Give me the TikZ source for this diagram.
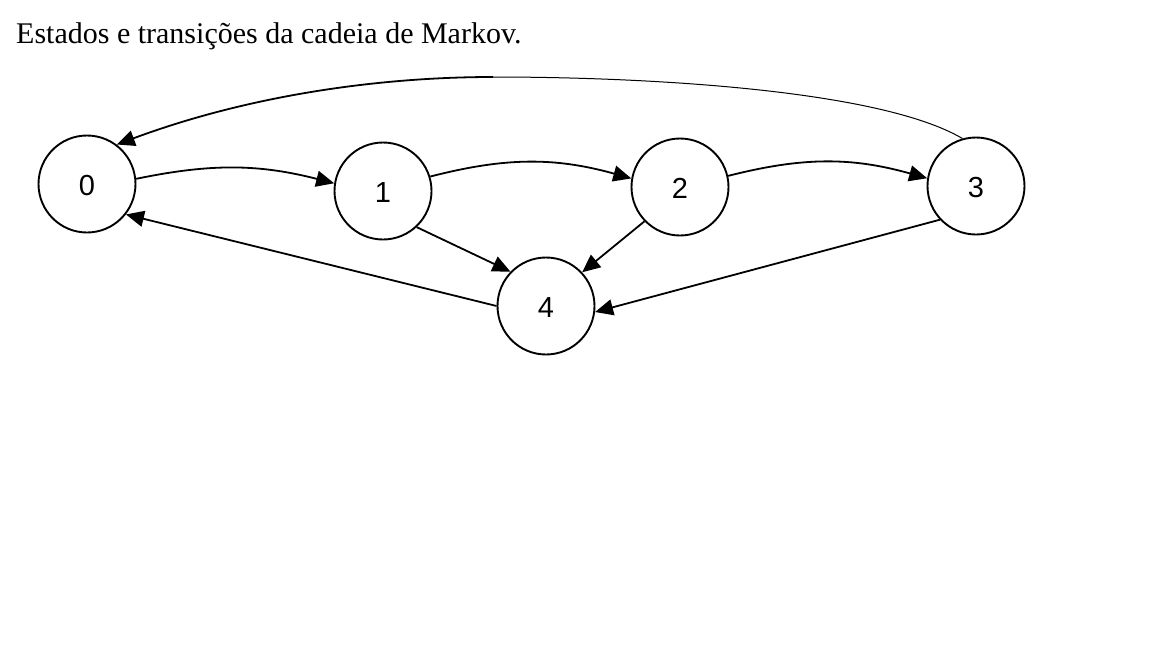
\documentclass[tikz,border=0pt]{standalone}
\usepackage{fontspec}
\setmainfont{Liberation Serif}
\newfontfamily\digitfont{Liberation Sans}
\usetikzlibrary{arrows.meta}
\tikzset{
  state/.style={circle, draw=black, line width=1.9pt, minimum size=97pt, inner sep=0pt, text height=22pt, text depth=0pt, font=\digitfont\fontsize{29}{29}\selectfont},
  edge/.style={line width=1.8pt, -{Triangle[length=18pt,width=16pt]}},
  thinedge/.style={line width=1pt},
}
\begin{document}
\begin{tikzpicture}[x=1pt,y=-1pt]
\useasboundingbox (0,0) rectangle (1152,648);
\node[anchor=base west, inner sep=0pt, font=\fontsize{30}{30}\selectfont] (title) at (16,43) {Estados e transições da cadeia de Markov.};
\node[state] (n0) at (87,184) {0};
\node[state] (n1) at (383,191) {1};
\node[state] (n2) at (680,187) {2};
\node[state] (n3) at (976,186) {3};
\node[state] (n4) at (546,306) {4};
\coordinate (top) at (493,77);
\draw[edge] (n0.6) to[bend left=13] (n1.171);
\draw[edge] (n1.17) to[bend left=15] (n2.170);
\draw[edge] (n2.13) to[bend left=15] (n3.171);
\draw[edge] (n1.-47) -- (n4.136);
\draw[edge] (n2.224) -- (n4.43);
\draw[edge] (n3.223) -- (n4.-7);
\draw[edge] (n4.180) -- (n0.-38);
\draw[thinedge] (n3.106) .. controls (880,90) and (650,77) .. (top);
\draw[edge] (top) .. controls (380,77) and (250,95) .. (n0.53);
\end{tikzpicture}
\end{document}
